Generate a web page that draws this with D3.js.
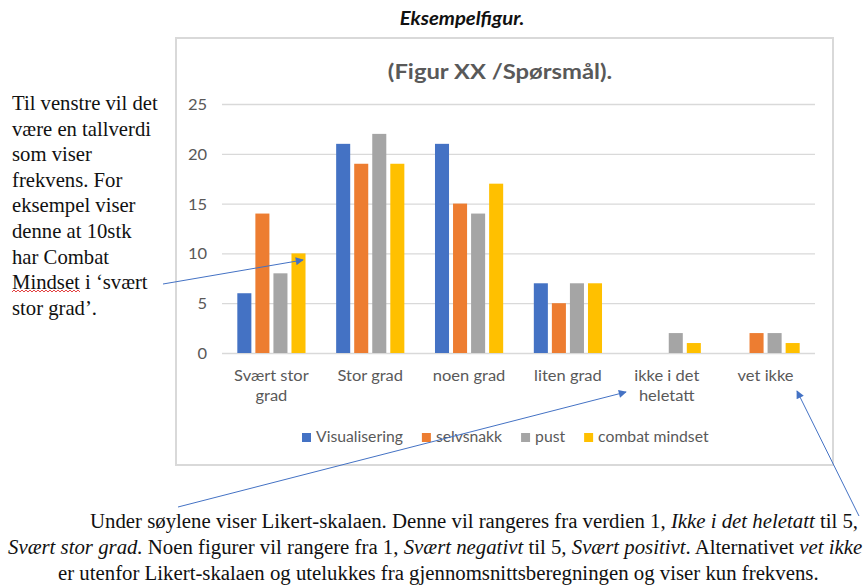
<!DOCTYPE html>
<html>
<head>
<meta charset="utf-8">
<script src="https://cdn.jsdelivr.net/npm/d3@7"></script>
<style>
  html, body { margin: 0; padding: 0; background: #fff; }
  svg { display: block; }
</style>
</head>
<body>
<svg id="chart" width="865" height="585"></svg>
<script>
// Response categories (Likert scale plus "vet ikke")
const categories = ["Svært stor\ngrad", "Stor grad", "noen grad", "liten grad", "ikke i det\nheletatt", "vet ikke"];
// Series names
const seriesNames = ["Visualisering", "selvsnakk", "pust", "combat mindset"];
// Frequencies per series
const visualisering = [6, 21, 21, 7, 0, 0];
const selvsnakk     = [14, 19, 15, 5, 0, 2];
const pust          = [8, 22, 14, 7, 2, 2];
const combatMindset = [10, 19, 17, 7, 1, 1];
const yTicks = [0, 5, 10, 15, 20, 25];

const seriesValues = [visualisering, selvsnakk, pust, combatMindset];
const colors = ["#4472C4", "#ED7D31", "#A5A5A5", "#FFC000"];

const svg = d3.select("#chart");
const chartFont = "Lato, 'Open Sans', sans-serif";
const serif = "'Liberation Serif', 'Times New Roman', serif";
const textGrey = "#595959";
const stretch = 1.1;   // chart lettering is set a little wide

// Places a text horizontally widened by sx around its anchor point
function wideText(parent, x, y, sx) {
  return parent.append("g").attr("transform", `translate(${x},${y}) scale(${sx},1)`)
    .append("text");
}

// Heading above the chart
wideText(svg, 462, 25, 1.13)
  .attr("text-anchor", "middle")
  .attr("font-family", chartFont)
  .attr("font-weight", "bold").attr("font-style", "italic")
  .attr("font-size", 18).attr("fill", "#111")
  .text("Eksempelfigur.");

// Chart frame
svg.append("rect")
  .attr("x", 176).attr("y", 38).attr("width", 657).attr("height", 427)
  .attr("fill", "#fff").attr("stroke", "#d9d9d9").attr("stroke-width", 2);

wideText(svg, 500, 79, 1.19)
  .attr("text-anchor", "middle")
  .attr("font-family", chartFont)
  .attr("font-weight", "bold").attr("font-size", 20).attr("fill", textGrey)
  .text("(Figur XX /Spørsmål).");

// Scales
const x0 = d3.scaleBand().domain(categories).range([222, 815]).paddingInner(0.31).paddingOuter(0.155);
const x1 = d3.scaleBand().domain(seriesNames).range([0, x0.bandwidth()]).paddingInner(0.222).paddingOuter(0);
const y = d3.scaleLinear().domain([0, 25]).range([353, 104]);

// Gridlines and y labels
const yAxis = d3.axisLeft(y).tickValues(yTicks).tickSize(-(815 - 222)).tickPadding(0);
const gy = svg.append("g").attr("transform", "translate(222,0)").call(yAxis);
gy.select(".domain").remove();
gy.selectAll(".tick line").attr("stroke", "#d9d9d9").attr("stroke-width", 1.3);
gy.selectAll(".tick text")
  .attr("x", -15 / stretch).attr("dy", "0.36em")
  .attr("transform", `scale(${stretch},1)`)
  .attr("font-family", chartFont).attr("font-size", 15).attr("fill", textGrey);

// Bars
const groups = svg.append("g").selectAll("g")
  .data(categories).join("g")
  .attr("transform", d => `translate(${x0(d)},0)`);

groups.selectAll("rect")
  .data((c, ci) => seriesNames.map((s, si) => ({ s, si, v: seriesValues[si][ci] })))
  .join("rect")
  .attr("x", d => x1(d.s))
  .attr("width", x1.bandwidth())
  .attr("y", d => y(d.v))
  .attr("height", d => y(0) - y(d.v))
  .attr("fill", d => colors[d.si]);

// Category labels
const xAxis = d3.axisBottom(x0).tickSize(0).tickPadding(0);
const gx = svg.append("g").attr("transform", "translate(0,353)").call(xAxis);
gx.select(".domain").remove();
gx.selectAll(".tick text").each(function(d) {
  const t = d3.select(this);
  t.text(null).attr("y", 0).attr("dy", null)
    .attr("transform", `scale(${stretch},1)`)
    .attr("font-family", chartFont).attr("font-size", 15).attr("fill", textGrey);
  d.split("\n").forEach((line, i) => {
    t.append("tspan").attr("x", 0).attr("y", 28 + i * 20).text(line);
  });
});

// Legend
const legendStretch = 1.05;
const legend = svg.append("g");
let lx = 0;
seriesNames.forEach((name, i) => {
  const item = legend.append("g").attr("transform", `translate(${lx},0)`);
  item.append("rect").attr("x", 0).attr("y", -9).attr("width", 9).attr("height", 9).attr("fill", colors[i]);
  const txt = item.append("g").attr("transform", `translate(14,0) scale(${legendStretch},1)`)
    .append("text").attr("x", 0).attr("y", 0)
    .attr("font-family", chartFont).attr("font-size", 15).attr("fill", textGrey).text(name);
  lx += 14 + txt.node().getComputedTextLength() * legendStretch + 19;
});
legend.attr("transform", "translate(302,442)");

// Annotation text on the left
const leftLines = ["Til venstre vil det", "være en tallverdi", "som viser", "frekvens. For", "eksempel viser",
  "denne at 10stk", "har Combat", "Mindset i \u2018svært", "stor grad\u2019."];
const leftText = svg.append("text")
  .attr("font-family", serif).attr("font-size", 20.7).attr("fill", "#111");
leftLines.forEach((line, i) => {
  leftText.append("tspan").attr("x", 12).attr("y", 110 + i * 25.6).text(line);
});

// Spell-check squiggle under "Mindset"
const squiggle = d3.path();
squiggle.moveTo(12, 292);
for (let sx = 12; sx < 80; sx += 4) {
  squiggle.lineTo(sx + 2, 290);
  squiggle.lineTo(sx + 4, 292);
}
svg.append("path").attr("d", squiggle.toString())
  .attr("fill", "none").attr("stroke", "#e03030").attr("stroke-width", 0.9);

// Explanation text below the chart
const bottomLines = [
  { x: 90, parts: [["Under søylene viser Likert-skalaen. Denne vil rangeres fra verdien 1, ", false], ["Ikke i det heletatt", true], [" til 5,", false]] },
  { x: 8, parts: [["Svært stor grad.", true], [" Noen figurer vil rangere fra 1, ", false], ["Svært negativt", true], [" til 5", false], [", Svært positivt", true], [". Alternativet ", false], ["vet ikke", true]] },
  { x: 58, parts: [["er utenfor Likert-skalaen og utelukkes fra gjennomsnittsberegningen og viser kun frekvens.", false]] }
];
bottomLines.forEach((line, i) => {
  const t = svg.append("text").attr("x", line.x).attr("y", 528 + i * 26)
    .attr("font-family", serif).attr("font-size", 20.8).attr("fill", "#111");
  line.parts.forEach(([s, it]) => {
    t.append("tspan").attr("font-style", it ? "italic" : "normal").text(s);
  });
});

// Arrows
svg.append("defs").append("marker")
  .attr("id", "arrow").attr("viewBox", "0 0 10 10")
  .attr("refX", 9).attr("refY", 5)
  .attr("markerWidth", 11).attr("markerHeight", 8)
  .attr("markerUnits", "userSpaceOnUse")
  .attr("orient", "auto")
  .append("path").attr("d", "M0,0L10,5L0,10Z").attr("fill", "#4472C4");

const arrows = [[163, 284, 303, 260], [178, 507, 626, 392], [859, 516, 797, 391]];
svg.append("g").selectAll("line").data(arrows).join("line")
  .attr("x1", d => d[0]).attr("y1", d => d[1]).attr("x2", d => d[2]).attr("y2", d => d[3])
  .attr("stroke", "#4472C4").attr("stroke-width", 1)
  .attr("marker-end", "url(#arrow)");
</script>
</body>
</html>
